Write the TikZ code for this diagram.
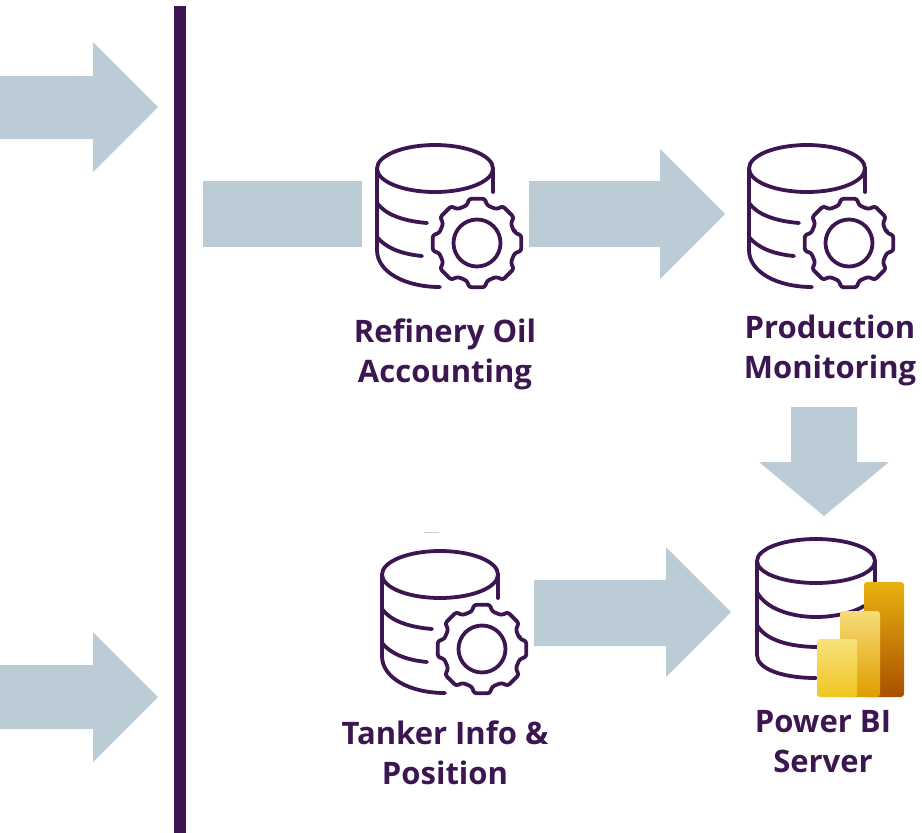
\documentclass[tikz,border=0pt]{standalone}
\usepackage{fontspec}
\setmainfont{Open Sans}
\usetikzlibrary{calc}
\definecolor{ink}{HTML}{3B1650}
\definecolor{blockc}{HTML}{BCCCD6}
\definecolor{barAt}{HTML}{E8B30F}
\definecolor{barAb}{HTML}{A94F00}
\definecolor{barBt}{HTML}{F6DC78}
\definecolor{barBb}{HTML}{DE9D00}
\definecolor{barCt}{HTML}{F8E27E}
\definecolor{barCb}{HTML}{F0C520}
\tikzset{
  block/.style={fill=blockc,draw=none},
  iconline/.style={draw=ink,line width=3.8pt,line cap=round,line join=round},
  lbl/.style={text=ink,align=center,inner sep=0pt,font=\fontsize{31}{40}\selectfont\bfseries},
  bar/.style={rounded corners=3pt,draw=none},
  dbgear/.pic={
    \path[iconline] (435,168.5) ellipse [x radius=58pt,y radius=23.5pt];
    \path[iconline] (493,168.5) -- (493,192);
    \path[iconline] (377,168.5) -- (377,250) .. controls (377,272) and (405,287) .. (440,287);
    \path[iconline] (377,203) .. controls (385,214) and (402,221) .. (427,223);
    \path[iconline] (377,237) .. controls (385,247) and (400,254) .. (422,256);
    \path[iconline] (477,243) circle [radius=23.5pt];
    \path[iconline,rounded corners=2.5pt] ($(477,243)+(-15:39)$)
      \foreach \a in {0,45,...,315}{
        -- ($(477,243)+(\a-15:39)$) -- ($(477,243)+(\a-10:45)$) -- ($(477,243)+(\a+10:45)$) -- ($(477,243)+(\a+15:39)$)
      } -- cycle;
  }
}
\begin{document}
\begin{tikzpicture}[x=1pt,y=-1pt]
\useasboundingbox (0,0) rectangle (922,833);
% block arrows
\fill[block] (0,76) -- (93,76) -- (93,42) -- (158,107) -- (93,172) -- (93,139) -- (0,139) -- cycle;
\fill[block] (0,665) -- (93,665) -- (93,632) -- (158,697) -- (93,762) -- (93,729) -- (0,729) -- cycle;
\fill[block] (203,181) rectangle (362,247);
\fill[block] (529,181) -- (660,181) -- (660,149) -- (725,214) -- (660,279) -- (660,247) -- (529,247) -- cycle;
\fill[block] (791,407) -- (857,407) -- (857,462) -- (889,462) -- (824,516) -- (759,462) -- (791,462) -- cycle;
\fill[block] (534,580) -- (666,580) -- (666,547) -- (731,612) -- (666,677) -- (666,646) -- (534,646) -- cycle;
% divider
\fill[ink] (174,6) rectangle (186,833);
% icons
\pic at (0,0) {dbgear};
\pic at (372,0) {dbgear};
\pic at (5,406) {dbgear};
% power bi db
\path[iconline] (816,561) ellipse [x radius=59pt,y radius=22pt];
\path[iconline] (757,561) -- (757,655) .. controls (757,668) and (780,678) .. (816,678);
\path[iconline] (875,561) -- (875,590);
\path[iconline] (757,592) .. controls (765,608) and (790,617) .. (816,617) .. controls (835,617) and (855,612) .. (864,606);
\path[iconline] (757,625) .. controls (765,640) and (790,647) .. (818,647);
\path[bar,top color=barAt,bottom color=barAb] (864,582) rectangle (904,697);
\path[bar,top color=barBt,bottom color=barBb] (840,611) rectangle (880,697);
\path[bar,top color=barCt,bottom color=barCb] (817,639) rectangle (857,697);
\fill[gray!40] (424,532) rectangle (439,533);
% labels
\node[lbl] (refinery) at (445,354) {Refinery Oil\\Accounting};
\node[lbl] (production) at (830,350) {Production\\Monitoring};
\node[lbl] (tanker) at (445,753) {Tanker Info \&\\Position};
\node[lbl] (powerbi) at (823,742) {Power BI\\Server};
\end{tikzpicture}
\end{document}
